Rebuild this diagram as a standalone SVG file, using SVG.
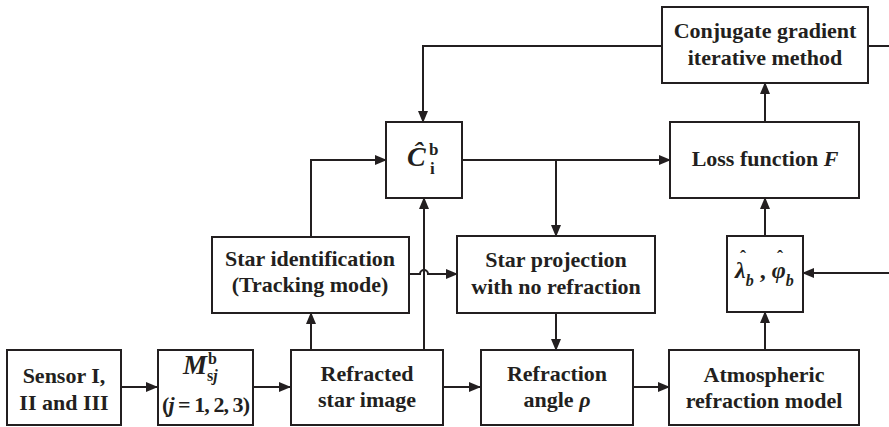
<svg xmlns="http://www.w3.org/2000/svg" width="889" height="427" viewBox="0 0 889 427">
  <style>
    .box { fill: #ffffff; stroke: #231f20; stroke-width: 2; }
    .lbl { font-family: "Liberation Serif", "Times New Roman", serif; font-weight: bold; font-size: 22px; fill: #231f20; text-anchor: middle; }
    .sym { font-family: "Liberation Serif", "Times New Roman", serif; font-weight: bold; fill: #231f20; }
    .it { font-style: italic; }
    .hat { font-family: "Liberation Serif", "Times New Roman", serif; font-weight: bold; font-size: 18px; fill: #231f20; text-anchor: middle; }
    .wire { fill: none; stroke: #231f20; stroke-width: 2; }
  </style>
  <defs>
    <marker id="arrow" markerUnits="userSpaceOnUse" markerWidth="12" markerHeight="10" refX="11" refY="5" orient="auto">
      <path d="M0,0 L12,5 L0,10 Z" fill="#231f20"/>
    </marker>
  </defs>
  <rect width="889" height="427" fill="#ffffff"/>

  <!-- connectors -->
  <g id="connectors">
    <path class="wire" d="M121,387 H157" marker-end="url(#arrow)"/>
    <path class="wire" d="M253,387 H290" marker-end="url(#arrow)"/>
    <path class="wire" d="M443,387 H480" marker-end="url(#arrow)"/>
    <path class="wire" d="M633,387 H669" marker-end="url(#arrow)"/>
    <path class="wire" d="M311,350 V313" marker-end="url(#arrow)"/>
    <path class="wire" d="M311,237 V160 H386" marker-end="url(#arrow)"/>
    <path class="wire" d="M424,350 V198" marker-end="url(#arrow)"/>
    <!-- small hop where this line crosses the vertical one -->
    <path class="wire" d="M409,274 H420 A4,4 0 0 1 428,274 H457" marker-end="url(#arrow)"/>
    <path class="wire" d="M462,160 H670" marker-end="url(#arrow)"/>
    <path class="wire" d="M556,160 V236" marker-end="url(#arrow)"/>
    <path class="wire" d="M556,313 V350" marker-end="url(#arrow)"/>
    <path class="wire" d="M765,350 V312" marker-end="url(#arrow)"/>
    <path class="wire" d="M765,236 V198" marker-end="url(#arrow)"/>
    <path class="wire" d="M765,122 V83" marker-end="url(#arrow)"/>
    <path class="wire" d="M662,46 H423 V122" marker-end="url(#arrow)"/>
    <path class="wire" d="M868,46 H889"/>
    <path class="wire" d="M889,273 H803" marker-end="url(#arrow)"/>
  </g>

  <g id="sensor">
    <rect class="box" x="7" y="350" width="114" height="75"/>
    <text class="lbl" x="64" y="383">Sensor I,</text>
    <text class="lbl" x="64" y="410">II and III</text>
  </g>

  <g id="msj">
    <rect class="box" x="158" y="350" width="95" height="75"/>
    <text class="sym it" x="183" y="374" font-size="27">M</text>
    <text class="sym" x="208" y="364" font-size="16">b</text>
    <text class="sym" x="207" y="381" font-size="16">s<tspan class="it">j</tspan></text>
    <text class="lbl" x="206" y="412" textLength="88" lengthAdjust="spacing">(<tspan class="it">j</tspan> = 1, 2, 3)</text>
  </g>

  <g id="refracted-image">
    <rect class="box" x="291" y="350" width="152" height="75"/>
    <text class="lbl" x="367" y="381">Refracted</text>
    <text class="lbl" x="367" y="407">star image</text>
  </g>

  <g id="refraction-angle">
    <rect class="box" x="481" y="350" width="152" height="75"/>
    <text class="lbl" x="557" y="381">Refraction</text>
    <text class="lbl" x="557" y="407">angle <tspan class="it">ρ</tspan></text>
  </g>

  <g id="atmospheric-model">
    <rect class="box" x="669" y="350" width="190" height="75"/>
    <text class="lbl" x="764" y="382">Atmospheric</text>
    <text class="lbl" x="764" y="408">refraction model</text>
  </g>

  <g id="star-identification">
    <rect class="box" x="212" y="237" width="197" height="76"/>
    <text class="lbl" x="310" y="266">Star identification</text>
    <text class="lbl" x="310" y="292">(Tracking mode)</text>
  </g>

  <g id="star-projection">
    <rect class="box" x="457" y="236" width="198" height="77"/>
    <text class="lbl" x="556" y="267">Star projection</text>
    <text class="lbl" x="556" y="294">with no refraction</text>
  </g>

  <g id="lat-lon">
    <rect class="box" x="727" y="236" width="76" height="76"/>
    <text class="sym" x="735" y="278" font-size="24"><tspan class="it">λ</tspan><tspan class="it" font-size="16" dy="8">b</tspan><tspan dy="-8"> , </tspan><tspan class="it">φ</tspan><tspan class="it" font-size="16" dy="8">b</tspan></text>
    <text class="hat" x="743" y="263">ˆ</text>
    <text class="hat" x="780" y="263">ˆ</text>
  </g>

  <g id="attitude-matrix">
    <rect class="box" x="386" y="122" width="76" height="76"/>
    <text class="sym it" x="407" y="166" font-size="28">Ĉ</text>
    <text class="sym" x="429" y="155" font-size="17">b</text>
    <text class="sym" x="430" y="174" font-size="17">i</text>
  </g>

  <g id="loss-function">
    <rect class="box" x="670" y="122" width="189" height="76"/>
    <text class="lbl" x="765" y="166">Loss function <tspan class="it">F</tspan></text>
  </g>

  <g id="conjugate-gradient">
    <rect class="box" x="662" y="7" width="206" height="76"/>
    <text class="lbl" x="765" y="38">Conjugate gradient</text>
    <text class="lbl" x="765" y="65">iterative method</text>
  </g>
</svg>
